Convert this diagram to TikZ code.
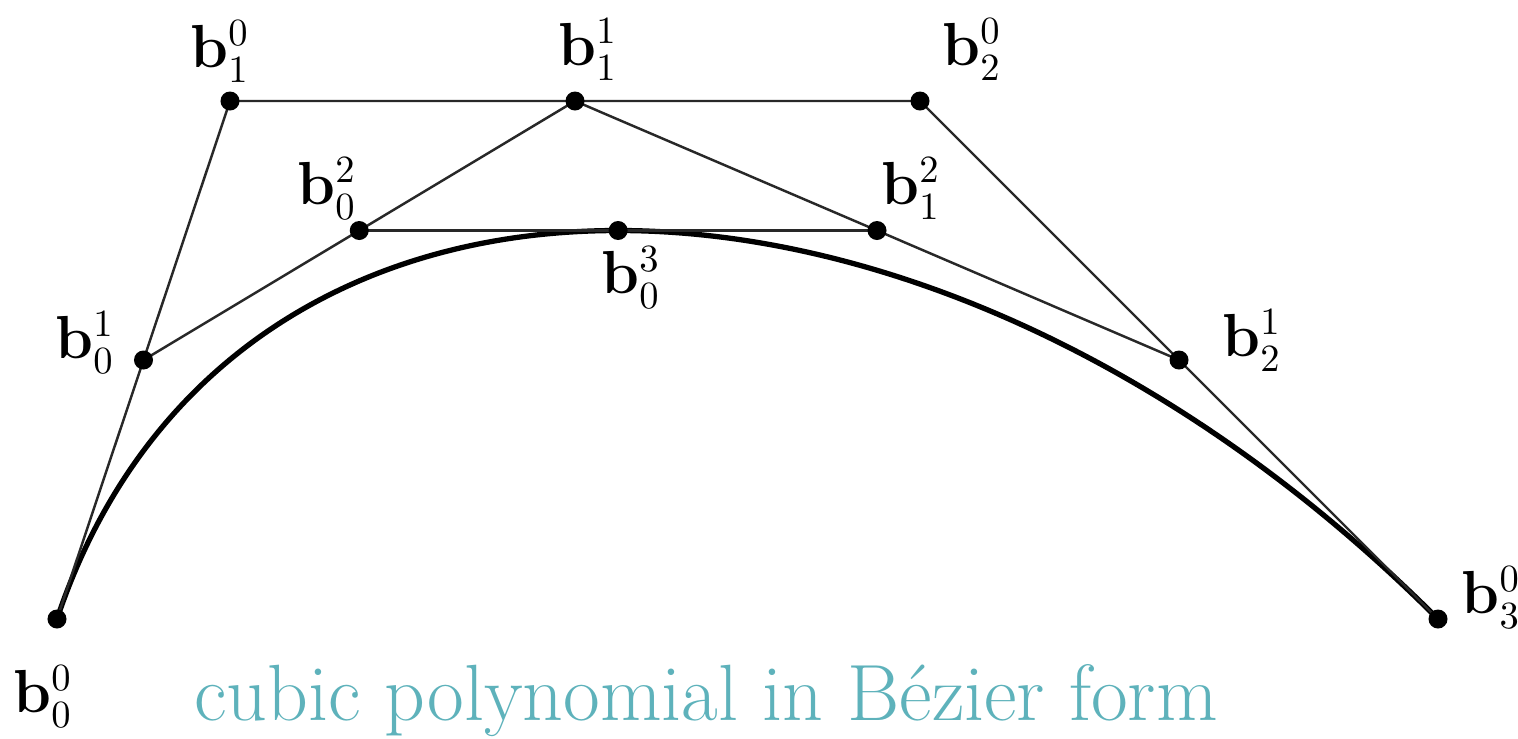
\documentclass[tikz,border=0pt]{standalone}
\usepackage{xcolor}
\usepackage{amsmath}
\usepackage{tikz}
\usetikzlibrary{calc}
\definecolor{titlecolor}{RGB}{94,178,187}
\definecolor{polycolor}{RGB}{40,40,40}
\tikzset{
  ptdot/.style={circle, fill=black, inner sep=0pt, minimum size=0.19cm},
  ptlabel/.style={inner sep=0pt, font=\fontsize{16}{19}\selectfont},
  polyline/.style={draw=polycolor, line width=0.7pt},
  curveline/.style={draw=black, line width=1.5pt},
  titletext/.style={font=\fontsize{22.7}{27}\selectfont, text=titlecolor,
                    inner sep=0pt, anchor=base},
}
\begin{document}
\begin{tikzpicture}[x=0.01cm, y=-0.01cm]

  \useasboundingbox (0,0) rectangle (1518,738);

  % Control points
  \coordinate (b00) at (57,619);
  \coordinate (b10) at (230,101);
  \coordinate (b20) at (920,101);
  \coordinate (b30) at (1438,619);

  % de Casteljau points
  \coordinate (b01) at ($(b00)!0.5!(b10)$);
  \coordinate (b11) at ($(b10)!0.5!(b20)$);
  \coordinate (b21) at ($(b20)!0.5!(b30)$);
  \coordinate (b02) at ($(b01)!0.5!(b11)$);
  \coordinate (b12) at ($(b11)!0.5!(b21)$);
  \coordinate (b03) at ($(b02)!0.5!(b12)$);

  % Curve
  \draw[curveline] (b00) .. controls (b10) and (b20) .. (b30);

  % Polygons
  \draw[polyline] (b00) -- (b10) -- (b20) -- (b30);
  \draw[polyline] (b01) -- (b11) -- (b21);
  \draw[polyline] (b02) -- (b12);

  % Dots
  \foreach \p in {b00, b10, b20, b30, b01, b11, b21, b02, b12, b03}
    \node[ptdot] (dot\p) at (\p) {};

  % Labels
  \node[ptlabel] (lb00) at (43,697)   {$\mathbf{b}_0^0$};
  \node[ptlabel] (lb10) at (220,52)   {$\mathbf{b}_1^0$};
  \node[ptlabel] (lb20) at (972,50)   {$\mathbf{b}_2^0$};
  \node[ptlabel] (lb30) at (1491,598) {$\mathbf{b}_3^0$};
  \node[ptlabel] (lb01) at (85,343)   {$\mathbf{b}_0^1$};
  \node[ptlabel] (lb11) at (588,50)   {$\mathbf{b}_1^1$};
  \node[ptlabel] (lb21) at (1252,341) {$\mathbf{b}_2^1$};
  \node[ptlabel] (lb02) at (327,189)  {$\mathbf{b}_0^2$};
  \node[ptlabel] (lb12) at (911,189)  {$\mathbf{b}_1^2$};
  \node[ptlabel] (lb03) at (631,278)  {$\mathbf{b}_0^3$};

  % Title
  \node[titletext] (title) at (706,720) {cubic polynomial in B\'ezier form};

\end{tikzpicture}
\end{document}
